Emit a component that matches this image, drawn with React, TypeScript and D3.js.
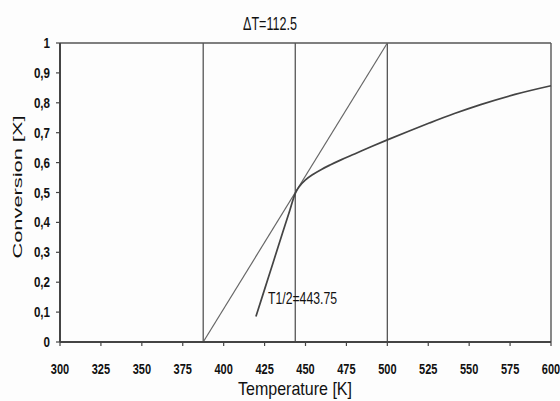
import React from "react"
import * as d3 from "d3"

// conversion curve
const temps = [419.7, 425, 430, 436, 440, 443.75, 446.5, 450, 455, 460, 465, 472, 480, 490, 500, 513, 526, 541, 557, 578, 600]
const conv = [0.085, 0.176, 0.262, 0.365, 0.433, 0.497, 0.522, 0.542, 0.562, 0.578, 0.592, 0.61, 0.629, 0.653, 0.676, 0.705, 0.733, 0.764, 0.794, 0.828, 0.857]

// tangent through the half-conversion point
const tangentT = [387.5, 500]
const tangentX = [0, 1]

// vertical marker lines
const markers = [387.5, 443.75, 500]

const xTicks = [300, 325, 350, 375, 400, 425, 450, 475, 500, 525, 550, 575, 600]
const yTicks = [0, 0.1, 0.2, 0.3, 0.4, 0.5, 0.6, 0.7, 0.8, 0.9, 1]
const yTickLabels = ["0", "0,1", "0,2", "0,3", "0,4", "0,5", "0,6", "0,7", "0,8", "0,9", "1"]

const W = 560
const H = 401
const M = { left: 60, right: 551, top: 43, bottom: 342 }

export default function App() {
  const x = d3.scaleLinear().domain([300, 600]).range([M.left, M.right])
  const y = d3.scaleLinear().domain([0, 1]).range([M.bottom, M.top])

  const curve = d3.line<number>()
    .x((d, i) => x(temps[i]))
    .y(d => y(d))
    .curve(d3.curveMonotoneX)

  const tangent = d3.line<number>()
    .x((d, i) => x(tangentT[i]))
    .y(d => y(d))

  const font = "'Liberation Sans', Arial, sans-serif"

  return (
    <svg width={W} height={H} style={{ position: "absolute", left: 0, top: 0, background: "#fdfdfd" }}
      fontFamily={font}>
      {/* frame top + right */}
      <line x1={M.left} x2={M.right} y1={M.top} y2={M.top} stroke="#555" strokeWidth={1.6} />
      <line x1={M.right} x2={M.right} y1={M.top} y2={M.bottom} stroke="#555" strokeWidth={1.4} />

      {markers.map(m => (
        <line key={m} x1={x(m)} x2={x(m)} y1={y(0)} y2={y(1)} stroke="#555" strokeWidth={1.3} />
      ))}

      <path d={tangent(tangentX) || ""} fill="none" stroke="#666" strokeWidth={1.2} />
      <path d={curve(conv) || ""} fill="none" stroke="#444" strokeWidth={1.7} />

      {/* axes */}
      <line x1={M.left} x2={M.right} y1={M.bottom} y2={M.bottom} stroke="#444" strokeWidth={2} />
      <line x1={M.left} x2={M.left} y1={M.top} y2={M.bottom} stroke="#444" strokeWidth={2} />

      {xTicks.map(t => (
        <g key={t} transform={`translate(${x(t)},0)`}>
          <line y1={M.bottom} y2={M.bottom + 4} stroke="#444" strokeWidth={1.2} />
          <text transform={`translate(0,374) scale(0.76,1)`} textAnchor="middle"
            fontSize={14.5} fontWeight="bold" fill="#111">{t}</text>
        </g>
      ))}

      {yTicks.map((t, i) => (
        <g key={t} transform={`translate(0,${y(t)})`}>
          <line x1={M.left - 4} x2={M.left} stroke="#444" strokeWidth={1.2} />
          <text transform={`translate(50,5) scale(0.8,1)`} textAnchor="end"
            fontSize={14.5} fontWeight="bold" fill="#111">{yTickLabels[i]}</text>
        </g>
      ))}

      <text x={295} y={395} textAnchor="middle" fontSize={18.5} fill="#111"
        textLength={114} lengthAdjust="spacingAndGlyphs">Temperature [K]</text>

      <text transform="translate(22,187) rotate(-90)" textAnchor="middle" fontSize={12.5} fill="#111"
        textLength={143} lengthAdjust="spacingAndGlyphs">Conversion [X]</text>

      <text x={270} y={30} textAnchor="middle" fontSize={17.5} fill="#111"
        textLength={54} lengthAdjust="spacingAndGlyphs">ΔT=112.5</text>

      <text x={268} y={303.5} fontSize={16.5} fill="#111"
        textLength={69} lengthAdjust="spacingAndGlyphs">T1/2=443.75</text>
    </svg>
  )
}
